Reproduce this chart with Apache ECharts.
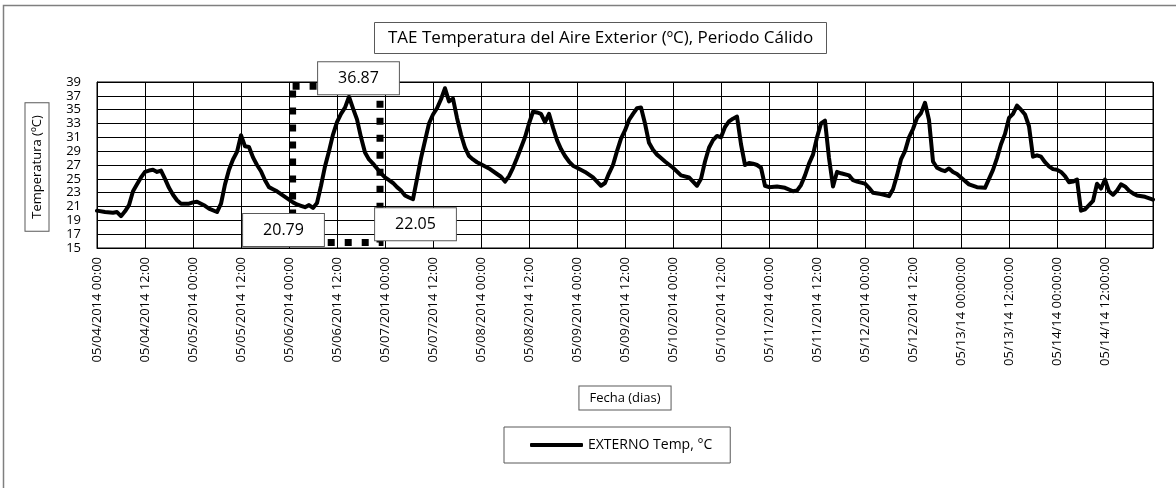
<!DOCTYPE html>
<html>
<head>
<meta charset="utf-8">
<script src="https://cdn.jsdelivr.net/npm/echarts@6/dist/echarts.min.js"></script>
<style>
  html, body { margin: 0; padding: 0; background: #fff; }
  #chart { width: 1176px; height: 488px; }
</style>
</head>
<body>
<div id="chart"></div>
<script>
// Hours elapsed since 05/04/2014 00:00 and outdoor air temperature (°C)
const hours = [
  0, 2, 4, 5, 6, 7, 8, 9, 10, 11, 12, 13, 14, 15, 16, 17, 18, 19, 20, 21, 23,
  24, 25, 26, 27, 28, 30, 31, 32, 33, 34, 35, 36, 37, 38, 39, 40, 41, 42, 43, 44, 45, 46, 47,
  48, 49, 50, 51, 52, 53, 54, 55, 56, 57, 58, 59, 60, 61, 62, 63, 64, 65, 66, 67, 68, 69, 70, 71,
  72, 73, 74, 75, 76, 77, 78, 79, 80, 81, 82, 83, 84, 85, 86, 87, 88, 89, 90, 91, 92, 93, 94, 95,
  96, 98, 100, 101, 102, 103, 104, 105, 106, 107, 108, 109, 110, 111, 112, 113, 114, 115, 116, 117, 118, 119,
  120, 122, 124, 125, 126, 127, 128, 129, 130, 131, 132, 133, 134, 135, 136, 137, 138, 139, 140, 141, 142,
  144, 146, 148, 149, 150, 151, 152, 153, 154, 155, 156, 157, 158, 159, 160, 161, 162, 163, 164, 165, 166, 167,
  168, 170, 172, 174, 175, 176, 177, 178, 179, 180, 181, 182, 183, 184, 185, 186, 188, 189, 190,
  192, 193, 194, 196, 198, 199, 200, 201, 202, 203, 204, 205, 206, 207, 208, 209, 210, 211, 212, 213, 214, 215,
  216, 217, 218, 220, 222, 223, 224, 225, 226, 227, 228, 229, 230, 231, 232, 233, 234, 235, 236, 237, 238, 239,
  240, 241, 242, 243, 244, 245, 246, 247, 248, 249, 250, 251, 252, 253, 254, 255, 256, 257, 258, 259, 260, 262, 264
];
const temps = [
  20.4, 20.2, 20.1, 20.2, 19.6, 20.3, 21.2, 23.2, 24.2, 25.2, 26.0, 26.2, 26.3, 26.0, 26.2, 25.0, 23.7, 22.7, 21.9, 21.4, 21.4,
  21.6, 21.7, 21.4, 21.1, 20.7, 20.2, 21.4, 24.2, 26.3, 27.8, 28.9, 31.3, 29.7, 29.6, 28.1, 27.0, 26.1, 24.8, 23.8, 23.5, 23.2, 22.8, 22.4,
  22.0, 21.6, 21.3, 21.1, 20.9, 21.2, 20.79, 21.5, 24.0, 26.8, 29.0, 31.4, 33.2, 34.4, 35.3, 36.87, 35.2, 33.6, 31.0, 28.8, 27.8, 27.2, 26.5, 25.8,
  25.2, 24.8, 24.4, 23.8, 23.3, 22.6, 22.3, 22.05, 25.0, 28.0, 30.5, 33.0, 34.3, 35.2, 36.5, 38.1, 36.2, 36.6, 33.8, 31.4, 29.5, 28.3, 27.8, 27.4,
  27.1, 26.5, 25.7, 25.3, 24.6, 25.4, 26.6, 28.0, 29.5, 31.0, 33.0, 34.7, 34.6, 34.4, 33.2, 34.4, 32.4, 30.6, 29.3, 28.3, 27.5, 26.9,
  26.6, 26.0, 25.2, 24.6, 24.0, 24.4, 25.8, 27.0, 29.0, 30.8, 32.0, 33.5, 34.4, 35.2, 35.3, 33.0, 30.2, 29.2, 28.5, 28.0, 27.5,
  26.6, 25.5, 25.2, 24.6, 24.0, 25.0, 27.5, 29.5, 30.6, 31.2, 31.0, 32.5, 33.3, 33.7, 34.0, 30.0, 27.0, 27.3, 27.2, 27.0, 26.6, 24.0,
  23.8, 23.9, 23.7, 23.2, 23.3, 24.1, 25.5, 27.2, 28.5, 31.0, 33.0, 33.4, 28.0, 23.9, 26.0, 25.8, 25.5, 24.8, 24.6,
  24.3, 23.7, 23.0, 22.8, 22.5, 23.5, 25.5, 27.8, 29.0, 31.0, 32.2, 33.8, 34.5, 36.0, 33.5, 27.5, 26.6, 26.3, 26.1, 26.5, 26.0, 25.7,
  25.2, 24.7, 24.2, 23.8, 23.7, 25.0, 26.3, 28.0, 30.0, 31.5, 33.8, 34.4, 35.6, 35.0, 34.3, 32.6, 28.2, 28.4, 28.2, 27.4, 26.8, 26.4,
  26.3, 26.0, 25.4, 24.5, 24.6, 24.9, 20.4, 20.6, 21.2, 21.8, 24.3, 23.6, 24.9, 23.2, 22.7, 23.3, 24.2, 23.9, 23.3, 22.9, 22.6, 22.4, 22.0
];

// Axis labels, one every 12 hours
const tickLabels = [
  '05/04/2014 00:00', '05/04/2014 12:00', '05/05/2014 00:00', '05/05/2014 12:00',
  '05/06/2014 00:00', '05/06/2014 12:00', '05/07/2014 00:00', '05/07/2014 12:00',
  '05/08/2014 00:00', '05/08/2014 12:00', '05/09/2014 00:00', '05/09/2014 12:00',
  '05/10/2014 00:00', '05/10/2014 12:00', '05/11/2014 00:00', '05/11/2014 12:00',
  '05/12/2014 00:00', '05/12/2014 12:00', '05/13/14 00:00:00', '05/13/14 12:00:00',
  '05/14/14 00:00:00', '05/14/14 12:00:00', ''
];

// Hours whose readings get a value callout (min, max, min)
const calloutHours = [54, 63, 79];
// Highlighted interval (hours, °C) drawn as a dotted frame
const frameHours = [48.9, 70.75];
const frameTemps = [38.4, 15.8];

const FONT = "'Open Sans', 'Noto Sans', sans-serif";
const BOX = '#595959';

const seriesData = hours.map((h, i) => [h, temps[i]]);
const calloutOffsets = [[-29.5, 22], [9.5, -18.5], [2.5, 25]];
const callouts = calloutHours.map((h, k) => {
  const v = temps[hours.indexOf(h)];
  return {
    coord: [h, v],
    value: v,
    label: { offset: calloutOffsets[k] }
  };
});

const chart = echarts.init(document.getElementById('chart'), null, { renderer: 'canvas' });

chart.setOption({
  backgroundColor: '#fff',
  animation: false,
  textStyle: { fontFamily: FONT },
  title: {
    text: 'TAE Temperatura del Aire Exterior (ºC), Periodo Cálido',
    left: 374,
    top: 22,
    padding: [6, 14, 6, 14],
    borderColor: BOX,
    borderWidth: 1,
    backgroundColor: '#fff',
    textStyle: { fontFamily: FONT, fontSize: 17, lineHeight: 20, fontWeight: 'normal', color: '#000' }
  },
  legend: {
    left: 504,
    top: 427,
    padding: [10, 18, 10, 26],
    borderColor: BOX,
    borderWidth: 1,
    icon: 'roundRect',
    itemWidth: 53,
    itemHeight: 4,
    itemGap: 5,
    textStyle: { fontFamily: FONT, fontSize: 14, lineHeight: 16, color: '#000' },
    data: ['EXTERNO Temp, °C']
  },
  grid: {
    left: 97,
    top: 82,
    width: 1056,
    height: 166,
    show: true,
    borderColor: '#000',
    borderWidth: 1,
    containLabel: false
  },
  xAxis: {
    type: 'value',
    min: 0,
    max: 264,
    interval: 12,
    axisLine: { show: true, lineStyle: { color: '#000', width: 1 } },
    axisTick: { show: false },
    splitLine: { show: true, lineStyle: { color: '#000', width: 1 } },
    axisLabel: {
      rotate: 90,
      margin: 9,
      padding: [10, 0, 0, 0],
      fontFamily: FONT,
      fontSize: 13,
      color: '#000',
      showMaxLabel: false,
      formatter: v => tickLabels[Math.round(v / 12)] || ''
    }
  },
  yAxis: {
    type: 'value',
    min: 15,
    max: 39,
    interval: 2,
    axisLine: { show: true, lineStyle: { color: '#000', width: 1 } },
    axisTick: { show: false },
    splitLine: { show: true, lineStyle: { color: '#000', width: 1 } },
    axisLabel: { margin: 16, fontFamily: FONT, fontSize: 13, color: '#000' }
  },
  graphic: [
    {
      type: 'rect',
      silent: true,
      shape: { x: 3.5, y: 5.5, width: 1300, height: 600 },
      style: { fill: 'none', stroke: '#7f7f7f', lineWidth: 1.5 }
    },
    {
      type: 'text',
      x: 37,
      y: 167,
      rotation: Math.PI / 2,
      silent: true,
      style: {
        text: 'Temperatura (ºC)',
        font: '13px ' + FONT,
        fill: '#000',
        align: 'center',
        verticalAlign: 'middle',
        backgroundColor: '#fff',
        borderColor: BOX,
        borderWidth: 1,
        padding: [5, 12, 5, 12]
      }
    },
    {
      type: 'text',
      x: 625,
      y: 398,
      silent: true,
      style: {
        text: 'Fecha (dias)',
        font: '13px ' + FONT,
        fill: '#000',
        align: 'center',
        verticalAlign: 'middle',
        backgroundColor: '#fff',
        borderColor: BOX,
        borderWidth: 1,
        padding: [5, 10, 5, 10]
      }
    }
  ],
  series: [
    {
      name: 'EXTERNO Temp, °C',
      type: 'line',
      data: seriesData,
      symbol: 'none',
      smooth: false,
      lineStyle: { color: '#000', width: 4, join: 'round', cap: 'round' },
      itemStyle: { color: '#000' },
      z: 3,
      markArea: {
        silent: true,
        z: 2,
        itemStyle: {
          color: 'rgba(0,0,0,0)',
          borderColor: '#000',
          borderWidth: 7,
          borderType: [7, 10]
        },
        label: { show: false },
        data: [[
          { coord: [frameHours[0], frameTemps[0]] },
          { coord: [frameHours[1], frameTemps[1]] }
        ]]
      },
      markPoint: {
        silent: true,
        z: 10,
        symbol: 'circle',
        symbolSize: 1,
        itemStyle: { color: 'rgba(0,0,0,0)' },
        label: {
          show: true,
          position: 'inside',
          formatter: p => Number(p.value).toFixed(2),
          fontFamily: FONT,
          fontSize: 16,
          lineHeight: 19,
          color: '#000',
          backgroundColor: '#fff',
          borderColor: BOX,
          borderWidth: 1,
          padding: [10, 20, 3, 20]
        },
        data: callouts
      }
    }
  ]
});
</script>
</body>
</html>
